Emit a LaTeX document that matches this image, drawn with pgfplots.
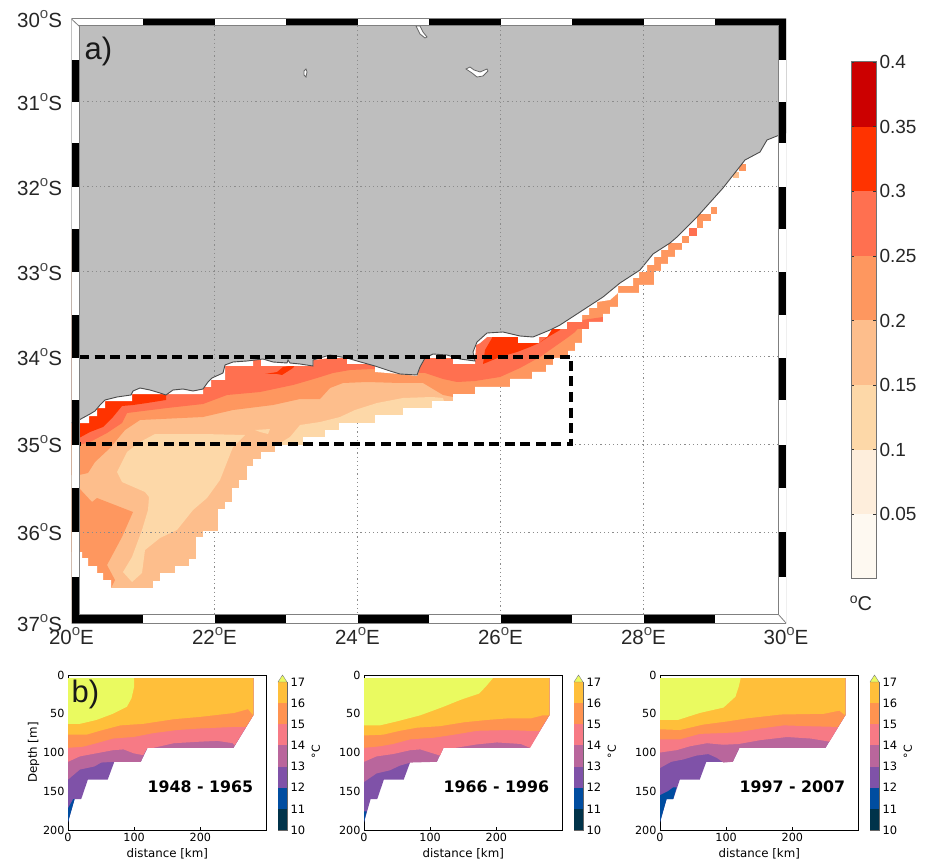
\documentclass[border=0pt]{standalone}
\usepackage{pgfplots}
\pgfplotsset{compat=1.18}
\usepackage{fontspec}
\setmainfont{Liberation Sans}
\newfontfamily\dv{DejaVu Sans}
\definecolor{cA}{HTML}{FEF9F1}
\definecolor{cB}{HTML}{FEEEDC}
\definecolor{cC}{HTML}{FDD8A8}
\definecolor{cD}{HTML}{FDBE8C}
\definecolor{cE}{HTML}{FE975F}
\definecolor{cF}{HTML}{FF7050}
\definecolor{cG}{HTML}{FF3300}
\definecolor{cH}{HTML}{CC0000}
\definecolor{land}{HTML}{BEBEBE}
\definecolor{tA}{HTML}{00334A}
\definecolor{tB}{HTML}{004DA0}
\definecolor{tC}{HTML}{7F52A8}
\definecolor{tD}{HTML}{B9669C}
\definecolor{tE}{HTML}{F77A85}
\definecolor{tF}{HTML}{FF9350}
\definecolor{tG}{HTML}{FFBF3A}
\definecolor{tH}{HTML}{EAFA60}
\newcommand{\poly}[2]{\addplot[fill=#1,draw=none] coordinates {#2} --cycle;}
\newcommand{\blk}[4]{\addplot[fill=black,draw=none] coordinates {(#1,#2)(#3,#2)(#3,#4)(#1,#4)} --cycle;}
\newcommand{\dotl}[4]{\addplot[color=black!45,line width=1pt,dash pattern=on 1.2pt off 3pt] coordinates {(#1,#2)(#3,#4)};}
\newcommand{\dg}[1]{#1\raisebox{8.5pt}{\fontsize{15}{15}\selectfont\color{black!70}o}}
\pgfplotsset{
  panel/.style={scale only axis,width=198.5pt,height=155pt,xmin=0,xmax=300,ymin=0,ymax=200,y dir=reverse,
    xtick={0,100,200},ytick={0,50,100,150,200},tick pos=left,
    tick label style={font=\dv\fontsize{11.2}{12}\selectfont},
    /pgf/number format/assume math mode=true,
    label style={font=\dv\fontsize{11.8}{13}\selectfont},
    xlabel={distance [km]},xlabel style={yshift=0pt},
    major tick length=3.5pt,tick style={black,line width=.7pt},axis line style={line width=.8pt},
    every axis plot/.append style={forget plot}},
  scbar/.style={scale only axis,width=9pt,height=148pt,xmin=0,xmax=1,ymin=10,ymax=17,
    xtick=\empty,ytick={10,...,17},tick pos=right,clip=false,
    tick label style={font=\dv\fontsize{11.5}{12}\selectfont},
    /pgf/number format/assume math mode=true,
    major tick length=3pt,tick style={black,line width=.6pt},axis line style={line width=.5pt,draw=black!60},
    ylabel={\dv °C},ylabel style={font=\fontsize{11}{12}\selectfont,at={(axis description cs:4.2,0.53)},anchor=center,rotate=0}},
}
\newcommand{\scb}[1]{%
\begin{axis}[scbar,at={(#1pt,31pt)},anchor=south west]
\poly{tA}{(0,10)(1,10)(1,11)(0,11)}
\poly{tB}{(0,11)(1,11)(1,12)(0,12)}
\poly{tC}{(0,12)(1,12)(1,13)(0,13)}
\poly{tD}{(0,13)(1,13)(1,14)(0,14)}
\poly{tE}{(0,14)(1,14)(1,15)(0,15)}
\poly{tF}{(0,15)(1,15)(1,16)(0,16)}
\poly{tG}{(0,16)(1,16)(1,17)(0,17)}
\addplot[fill=tH,draw=black!50,line width=.4pt] coordinates {(0,17)(1,17)(0.5,17.33)} --cycle;
\end{axis}}
\begin{document}
\begin{tikzpicture}[x=1pt,y=1pt]
\path[use as bounding box] (0,0) rectangle (928,861);
% ---------------- map
\begin{axis}[scale only axis,width=714.5pt,height=604pt,at={(71.5pt,238pt)},anchor=south west,
  xmin=71.5,xmax=786,ymin=19,ymax=623,y dir=reverse,axis line style={draw=none},
  xtick={71.5,214.5,357.5,500.5,643.5,786},
  xticklabels={\dg{20}E,\dg{22}E,\dg{24}E,\dg{26}E,\dg{28}E,\dg{30}E},
  ytick={19,102,187,272,357,444,532,623},
  yticklabels={\dg{30}S,\dg{31}S,\dg{32}S,\dg{33}S,\dg{34}S,\dg{35}S,\dg{36}S,\dg{37}S},
  major tick length=0pt,
  tick label style={font=\fontsize{20.5}{22}\selectfont,text=black!85},
  xticklabel style={yshift=-1pt},yticklabel style={xshift=-6pt},
]
% bands, drawn large and trimmed by the two white masks
\poly{cD}{(71,233)(682,233)(682,623)(71,623)}
\poly{cE}{(71,475)(79,475)(88,473)(95,462)(110,448)(125,430)(140,420)(203,417)(233,410)(273,405)(300,399)(320,399)(330,388)(343,383)(367,382)(400,383)(423,383)(443,395)(453,397)(500,420)(684,320)(684,230)(71,230)}
\poly{cE}{(71,488)(79,488)(92,502)(97,498)(133,512)(122,537)(107,565)(115,580)(111,588)(100,600)(71,600)}
\poly{cF}{(71,445)(79,445)(90,442)(107,433)(122,423)(127,413)(143,411)(167,408)(203,404)(227,395)(260,392)(293,385)(300,383)(317,378)(333,373)(350,370)(373,369)(400,372)(425,373)(443,379)(457,382)(475,381)(500,377)(520,368)(540,357)(567,338)(575,332)(580,326)(582,310)(71,310)}
\poly{cF}{(582,320)(603,317)(603,322)(589,322)(589,329)(582,329)}
\poly{cG}{(79,438)(90,432)(103,427)(113,417)(122,406)(133,405)(147,403)(166,400)(166,380)(79,380)}
\poly{cG}{(483,364)(485,350)(492,338)(492,325)(518,325)(518,343)(539,343)(530,347)(517,352)(500,357)}
\poly{cG}{(539,343)(547,337)(552,325)(560,325)(560,330)(548,337)}
\poly{cG}{(265,374)(277,372)(283,367)(295,365)(293,368)(282,375)(277,374)}
\poly{cC}{(117,472)(122,482)(145,492)(149,497)(148,510)(142,530)(132,557)(123,572)(132,582)(142,573)(145,550)(160,538)(177,530)(193,510)(207,498)(220,480)(233,447)(245,435)(203,434)(155,434)(140,442)(127,452)}
\poly{cC}{(255,430)(270,429)(268,434)(260,432)}
\poly{cC}{(275,446)(290,437)(300,425)(320,422)(340,417)(355,410)(377,403)(403,398)(432,397)(443,398)(450,420)(300,450)}
% white masks: open sea below and the narrow gap at the coast above
\poly{white}{(79,552)(82,552)(82,558)(88,558)(88,566)(97,566)(97,573)(103,573)(103,580)(111,580)(111,588)(153,588)(153,581)(160,581)(160,573)(175,573)(175,566)(189,566)(189,559)(196,559)(196,537)(203,537)(203,531)(218,531)(218,509)(225,509)(225,502)(232,502)(232,488)(239,488)(239,480)(247,480)(247,466)(253,466)(253,459)(261,459)(261,452)(275,452)(275,445)(303,445)(303,437)(325,437)(325,430)(339,430)(339,423)(375,423)(375,415)(403,415)(403,408)(432,408)(432,401)(453,401)(453,394)(475,394)(475,387)(510,387)(510,379)(532,379)(532,372)(546,372)(546,365)(553,365)(553,358)(568,358)(568,351)(575,351)(575,343)(582,343)(582,329)(589,329)(589,322)(603,322)(603,314)(610,314)(610,307)(618,307)(618,293)(639,293)(639,285)(654,285)(654,271)(661,271)(661,264)(668,264)(668,257)(675,257)(675,250)(682,250)(682,243)(690,230)(690,623)(71,623)(71,552)}
\poly{white}{(71,423)(89,423)(89,416)(97,416)(97,408)(105,408)(105,401)(132,401)(132,394)(203,394)(203,387)(211,387)(211,380)(225,380)(225,366)(253,366)(253,359)(261,359)(261,366)(313,366)(313,360)(330,358)(347,358)(347,364)(375,364)(375,372)(400,374)(417,376)(420,367)(425,358)(453,358)(453,364)(475,364)(475,361)(476,345)(480,343)(487,337)(518,337)(518,343)(539,343)(539,337)(547,337)(552,329)(568,329)(568,322)(582,322)(582,315)(589,315)(589,308)(597,308)(597,302)(610,300)(618,293)(618,286)(633,286)(633,278)(639,278)(639,272)(647,272)(647,265)(654,265)(654,257)(661,257)(661,250)(668,250)(668,243)(682,243)(690,230)(690,19)(71,19)}
% isolated cells along the east coast
\poly{cF}{(567,322)(589,322)(589,329)(567,329)}
\poly{cE}{(682,236)(689,236)(689,243)(682,243)}
\poly{cF}{(689,228)(697,228)(697,236)(689,236)}
\poly{cE}{(697,221)(703,221)(703,228)(697,228)}
\poly{cE}{(697,214)(711,214)(711,221)(697,221)}
\poly{cE}{(711,207)(717,207)(717,214)(711,214)}
\poly{cD}{(733,172)(739,172)(739,178)(733,178)}
\poly{cE}{(739,164)(746,164)(746,171)(739,171)}
% land
\addplot[fill=land,draw=black!70,line width=.9pt] coordinates {(71,423)(79,420)(90,414)(95,411)(100,405)(105,400)(117,397)(131,395)(133,391)(140,388)(150,390)(160,393)(166,395)(173,390)(183,389)(193,391)(203,389)(208,382)(212,378)(223,373)(225,365)(233,362)(247,361)(263,359)(273,362)(287,363)(288,360)(290,363)(300,364)(313,366)(313,360)(330,355)(347,358)(357,361)(375,366)(390,371)(400,374)(417,375)(420,367)(425,358)(433,354)(447,355)(460,359)(475,361)(473,352)(477,342)(487,333)(503,332)(520,336)(533,337)(550,330)(560,325)(580,312)(603,297)(620,283)(640,270)(653,254)(670,243)(677,237)(697,217)(723,188)(745,160)(760,152)(767,140)(777,136)(786,133)(786,19)(71,19)} --cycle;
% dotted graticule
\dotl{214.5}{26}{214.5}{378}\dotl{214.5}{537}{214.5}{614}
\dotl{357.5}{26}{357.5}{361}\dotl{357.5}{423}{357.5}{614}
\dotl{500.5}{26}{500.5}{332}\dotl{500.5}{387}{500.5}{614}
\dotl{643.5}{26}{643.5}{270}\dotl{643.5}{285}{643.5}{614}
\dotl{79}{102}{778}{102}
\dotl{79}{187}{778}{187}
\dotl{79}{272}{778}{272}
\dotl{79}{532}{778}{532}
\dotl{571}{357}{778}{357}
\dotl{571}{444}{778}{444}
% islands
\addplot[fill=white,draw=black!60,line width=.8pt] coordinates {(304,71)(306,69)(307,72)(306,77)(304,75)} --cycle;
\addplot[fill=white,draw=black!60,line width=.8pt] coordinates {(466,69)(470,67)(474,70)(480,72)(487,69)(488,71)(483,76)(477,77)(472,73)} --cycle;
\addplot[fill=white,draw=black!60,line width=.8pt] coordinates {(416,26)(420,26)(423,32)(427,37)(425,38)(420,34)} --cycle;
% dashed box
\addplot[black,line width=3.2pt,dash pattern=on 10pt off 5.5pt] coordinates {(79,357)(571,357)(571,444)(79,444)};
% frame strips
\poly{white}{(71.5,19)(786,19)(786,26)(71.5,26)}
\poly{white}{(71.5,614)(786,614)(786,623)(71.5,623)}
\poly{white}{(71.5,19)(79,19)(79,623)(71.5,623)}
\poly{white}{(778,19)(786,19)(786,623)(778,623)}
\blk{143}{19}{214.5}{26}\blk{286}{19}{357.5}{26}\blk{429}{19}{500.5}{26}\blk{572}{19}{643.5}{26}\blk{715}{19}{786}{26}
\blk{71.5}{614}{143}{623}\blk{214.5}{614}{286}{623}\blk{357.5}{614}{429}{623}\blk{500.5}{614}{572}{623}\blk{643.5}{614}{715}{623}
\blk{71.5}{60}{79}{102}\blk{71.5}{143}{79}{187}\blk{71.5}{229}{79}{272}\blk{71.5}{315}{79}{358}\blk{71.5}{400}{79}{445}\blk{71.5}{488}{79}{532}\blk{71.5}{577}{79}{623}
\blk{778}{19}{786}{60}\blk{778}{102}{786}{143}\blk{778}{187}{786}{229}\blk{778}{272}{786}{315}\blk{778}{358}{786}{400}\blk{778}{445}{786}{488}\blk{778}{532}{786}{577}
\addplot[draw=gray,line width=1pt] coordinates {(71.5,19)(786,19)(786,623)(71.5,623)} --cycle;
\addplot[draw=gray,line width=1pt] coordinates {(79,26)(778,26)(778,614)(79,614)} --cycle;
\addplot[draw=gray,line width=.8pt] coordinates {(71.5,19)(79,26)};
\addplot[draw=gray,line width=.8pt] coordinates {(786,623)(778,614)};
\end{axis}
% ---------------- colour bar of the map
\begin{axis}[scale only axis,width=25pt,height=517pt,at={(851pt,282pt)},anchor=south west,
  xmin=0,xmax=1,ymin=0,ymax=0.4,xtick=\empty,
  ytick={0.05,0.1,0.15,0.2,0.25,0.3,0.35,0.4},
  yticklabels={0.05,0.1,0.15,0.2,0.25,0.3,0.35,0.4},
  yticklabel pos=right,tick align=inside,major tick length=3pt,
  tick style={black!80,line width=.6pt},axis line style={draw=black!55,line width=1pt},
  tick label style={font=\fontsize{19}{20}\selectfont,text=black!85},
  axis on top]
\poly{cA}{(0,0)(1,0)(1,.05)(0,.05)}
\poly{cB}{(0,.05)(1,.05)(1,.1)(0,.1)}
\poly{cC}{(0,.1)(1,.1)(1,.15)(0,.15)}
\poly{cD}{(0,.15)(1,.15)(1,.2)(0,.2)}
\poly{cE}{(0,.2)(1,.2)(1,.25)(0,.25)}
\poly{cF}{(0,.25)(1,.25)(1,.3)(0,.3)}
\poly{cG}{(0,.3)(1,.3)(1,.35)(0,.35)}
\poly{cH}{(0,.35)(1,.35)(1,.4)(0,.4)}
\end{axis}
% ---------------- section 1
\begin{axis}[panel,at={(68pt,31pt)},anchor=south west,ylabel={Depth [m]},ylabel style={yshift=-3pt}]
\poly{tC}{(0,4)(280,4)(280,52)(250,94)(120,94)(110,112)(70,112)(60,135)(30,135)(20,160)(10,160)(0,190)}
\poly{tB}{(0,172)(8,160)(10,160)(0,190)}
\poly{tD}{(0,4)(280,4)(280,52)(250,94)(120,94)(110,112)(70,112)(50,113)(40,118)(18,122)(0,135)}
\poly{tE}{(0,4)(280,4)(280,52)(252,91)(249,88)(226,85)(200,86)(160,88)(129,94)(120,94)(114,103)(111,103)(99,101)(84,96)(68,97)(43,101)(18,105)(0,112)}
\poly{tF}{(0,4)(280,4)(280,52)(269,67)(251,67)(200,69)(165,71)(129,75)(99,80)(68,82)(43,88)(23,92.5)(0,94)}
\poly{tG}{(0,4)(280,4)(280,52)(272,44)(251,49)(200,54)(160,57)(114,63)(79,65)(48,72)(28,77)(0,77)}
\poly{tH}{(0,4)(100,4)(100,15)(96,30)(89,41)(68,50)(43,58)(18,63)(0,63)}
\node[anchor=east,font=\dv\bfseries\fontsize{15.8}{17}\selectfont] at (axis cs:285,144) {1948 - 1965};
\end{axis}
\scb{278}
% ---------------- section 2
\begin{axis}[panel,at={(364pt,31pt)},anchor=south west]
\poly{tC}{(0,4)(280,4)(280,52)(250,94)(120,94)(110,112)(70,112)(60,135)(30,135)(20,160)(10,160)(0,190)}
\poly{tB}{(0,176)(4,176)(0,190)}
\poly{tD}{(0,4)(280,4)(280,52)(250,94)(120,94)(110,112)(70,113)(54,117)(39,123)(19,127)(0,138)}
\poly{tE}{(0,4)(280,4)(280,52)(251,94)(237,89)(201,87)(171,89.5)(138,94)(120,94)(115,104)(100,100)(85,96)(70,97)(44,102)(19,105)(0,112)}
\poly{tF}{(0,4)(280,4)(280,52)(265,72)(247,72)(217,71)(171,72)(136,77)(105,81)(70,83)(44,89)(24,92)(0,94)}
\poly{tG}{(0,4)(280,4)(280,52)(270,52)(252,56)(217,56)(186,58)(151,61)(115,66)(80,68)(54,72)(29,77)(0,78)}
\poly{tH}{(0,4)(195,4)(184,15)(174,24)(146,32)(120,41)(85,52)(49,60)(24,65)(0,65)}
\node[anchor=east,font=\dv\bfseries\fontsize{15.8}{17}\selectfont] at (axis cs:285,144) {1966 - 1996};
\end{axis}
\scb{574}
% ---------------- section 3
\begin{axis}[panel,at={(660pt,31pt)},anchor=south west]
\poly{tC}{(0,4)(280,4)(280,52)(250,94)(120,94)(110,112)(70,112)(60,135)(30,135)(20,160)(10,160)(0,190)}
\poly{tB}{(0,155)(12,150)(20,145)(25,145)(20,160)(10,160)(0,190)}
\poly{tD}{(0,4)(280,4)(280,52)(250,94)(120,94)(110,112)(96,113)(86,107)(73,102)(55,104)(35,109)(17,112)(0,120)}
\poly{tE}{(0,4)(280,4)(280,52)(256,86)(228,82)(192,80)(152,84)(119,89)(96,90)(71,88)(45,92)(25,97)(0,100)}
\poly{tF}{(0,4)(280,4)(280,52)(269,67)(223,66)(187,65)(152,69)(116,74)(91,75)(60,76)(30,83)(0,83)}
\poly{tG}{(0,4)(280,4)(280,52)(271,46)(248,50)(182,51)(131,56)(101,60)(65,64)(30,71)(0,70)}
\poly{tH}{(0,4)(122,4)(119,15)(114,28)(96,42)(60,49)(27,58)(0,58)}
\node[anchor=east,font=\dv\bfseries\fontsize{15.8}{17}\selectfont] at (axis cs:285,144) {1997 - 2007};
\end{axis}
\scb{870}
% ---------------- texts
\node[anchor=west,font=\fontsize{31}{34}\selectfont,text=black!90] at (81,810) {a)};
\node[anchor=west,font=\fontsize{31}{34}\selectfont,text=black!90] at (68,167) {b)};
\node[font=\fontsize{20}{22}\selectfont,text=black!85] at (861,258) {\raisebox{7pt}{\fontsize{14}{14}\selectfont o}C};
\end{tikzpicture}
\end{document}
